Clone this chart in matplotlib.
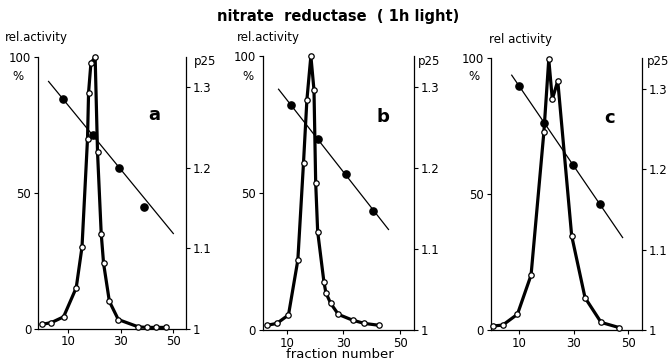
import matplotlib
matplotlib.use("Agg")
import matplotlib.pyplot as plt

# panel a
a_frac = [0, 3.7, 8.3, 13.1, 15.3, 17.4, 17.8, 18.7, 20.3, 21.2, 22.6, 23.5, 25.7, 29.1, 36.7, 39.9, 43.3, 47.4]
a_act = [1.5, 2.2, 4.3, 15, 30, 70, 87, 98, 100, 65, 35, 24, 10, 3.3, 0.6, 0.4, 0.4, 0.4]
a_p_frac = [7.9, 19.4, 29.5, 39.0]
a_p25 = [1.285, 1.240, 1.199, 1.151]
a_fit_x = [2.6, 50.0]
a_fit_y = [1.307, 1.118]

# panel b
b_frac = [2.9, 6.5, 10.6, 13.9, 15.9, 17.1, 18.5, 19.6, 20.2, 20.9, 23.1, 23.8, 25.5, 28.2, 33.2, 37.4, 42.7]
b_act = [1.7, 2.4, 5.5, 25.5, 61, 84, 100, 87.6, 53.8, 35.9, 17.6, 13.6, 9.7, 5.7, 3.6, 2.4, 1.7]
b_p_frac = [11.5, 20.9, 30.8, 40.4]
b_p25 = [1.277, 1.235, 1.193, 1.147]
b_fit_x = [7.1, 45.9]
b_fit_y = [1.297, 1.124]

# panel c
c_frac = [0.5, 3.9, 9.3, 14.3, 19.0, 20.8, 22.1, 24.1, 29.2, 34.1, 40.0, 46.6]
c_act = [1.5, 1.8, 5.8, 20.2, 72.8, 99.6, 84.9, 91.7, 34.7, 11.9, 2.8, 0.9]
c_p_frac = [10.0, 19.2, 29.8, 39.6]
c_p25 = [1.303, 1.258, 1.205, 1.157]
c_fit_x = [7.2, 47.9]
c_fit_y = [1.317, 1.115]

W, H = 670, 364
fig = plt.figure(figsize=(W / 100, H / 100), dpi=100)
fig.patch.set_facecolor("white")

panels = [
    # data, box in pixels (left, right, top, bottom), xlim, top of p25 axis, letter
    ((a_frac, a_act, a_p_frac, a_p25, a_fit_x, a_fit_y), (38.3, 185.7, 57.3, 328.5), (-1.3, 54.7), 1.337, "a", (154, 115)),
    ((b_frac, b_act, b_p_frac, b_p25, b_fit_x, b_fit_y), (262.7, 414, 56, 330), (1.5, 54.9), 1.338, "b", (383, 117)),
    ((c_frac, c_act, c_p_frac, c_p25, c_fit_x, c_fit_y), (491, 641.7, 58.3, 330), (-0.4, 54.9), 1.338, "c", (610, 118)),
]

tick_fs = 8.5
for (frac, act, pfrac, p25, fx, fy), (l, r, t, b), xlim, ptop, letter, lpos in panels:
    ax = fig.add_axes([l / W, 1 - b / H, (r - l) / W, (b - t) / H])
    ax.set_xlim(*xlim)
    ax.set_ylim(0, 100)
    ax.plot(frac, act, color="black", lw=2.3, zorder=2, clip_on=False)
    ax.plot(frac, act, "o", ms=3.9, mfc="white", mec="black", mew=0.9, zorder=3, clip_on=False)
    ax.set_yticks([0, 50, 100])
    ax.set_xticks([10, 30, 50])
    ax.tick_params(direction="out", length=3, width=0.8, labelsize=tick_fs, pad=2)
    ax.spines["top"].set_visible(False)
    ax.spines["right"].set_visible(False)
    for s in ("left", "bottom"):
        ax.spines[s].set_linewidth(0.9)

    ax2 = ax.twinx()
    ax2.set_ylim(1.0, ptop)
    ax2.plot(fx, fy, color="black", lw=0.9)
    ax2.plot(pfrac, p25, "o", ms=5.2, color="black")
    ax2.set_yticks([1.0, 1.1, 1.2, 1.3])
    ax2.set_yticklabels(["1", "1.1", "1.2", "1.3"])
    ax2.tick_params(direction="out", length=3, width=0.8, labelsize=tick_fs, pad=2)
    for s in ("top", "left", "bottom"):
        ax2.spines[s].set_visible(False)
    ax2.spines["right"].set_linewidth(0.9)

    fig.text(lpos[0] / W, 1 - lpos[1] / H, letter, fontsize=13, fontweight="bold",
             ha="center", va="center")

# headers over each panel
for x, y, s in [(5, 38, "rel.activity"), (237, 38, "rel.activity"), (489, 40, "rel activity")]:
    fig.text(x / W, 1 - y / H, s, fontsize=8.5, ha="left", va="center")
for x in (18, 248, 474):
    fig.text(x / W, 1 - 76 / H, "%", fontsize=8.5, ha="center", va="center")
for x in (194, 418, 647):
    fig.text(x / W, 1 - 62 / H, "p25", fontsize=8.5, ha="left", va="center")

fig.text(338 / W, 1 - 17 / H, "nitrate  reductase  ( 1h light)", fontsize=10.5,
         fontweight="bold", ha="center", va="center")
fig.text(340 / W, 1 - 355 / H, "fraction number", fontsize=9.5, ha="center", va="center")

fig.savefig("out.png", dpi=100, facecolor="white")
